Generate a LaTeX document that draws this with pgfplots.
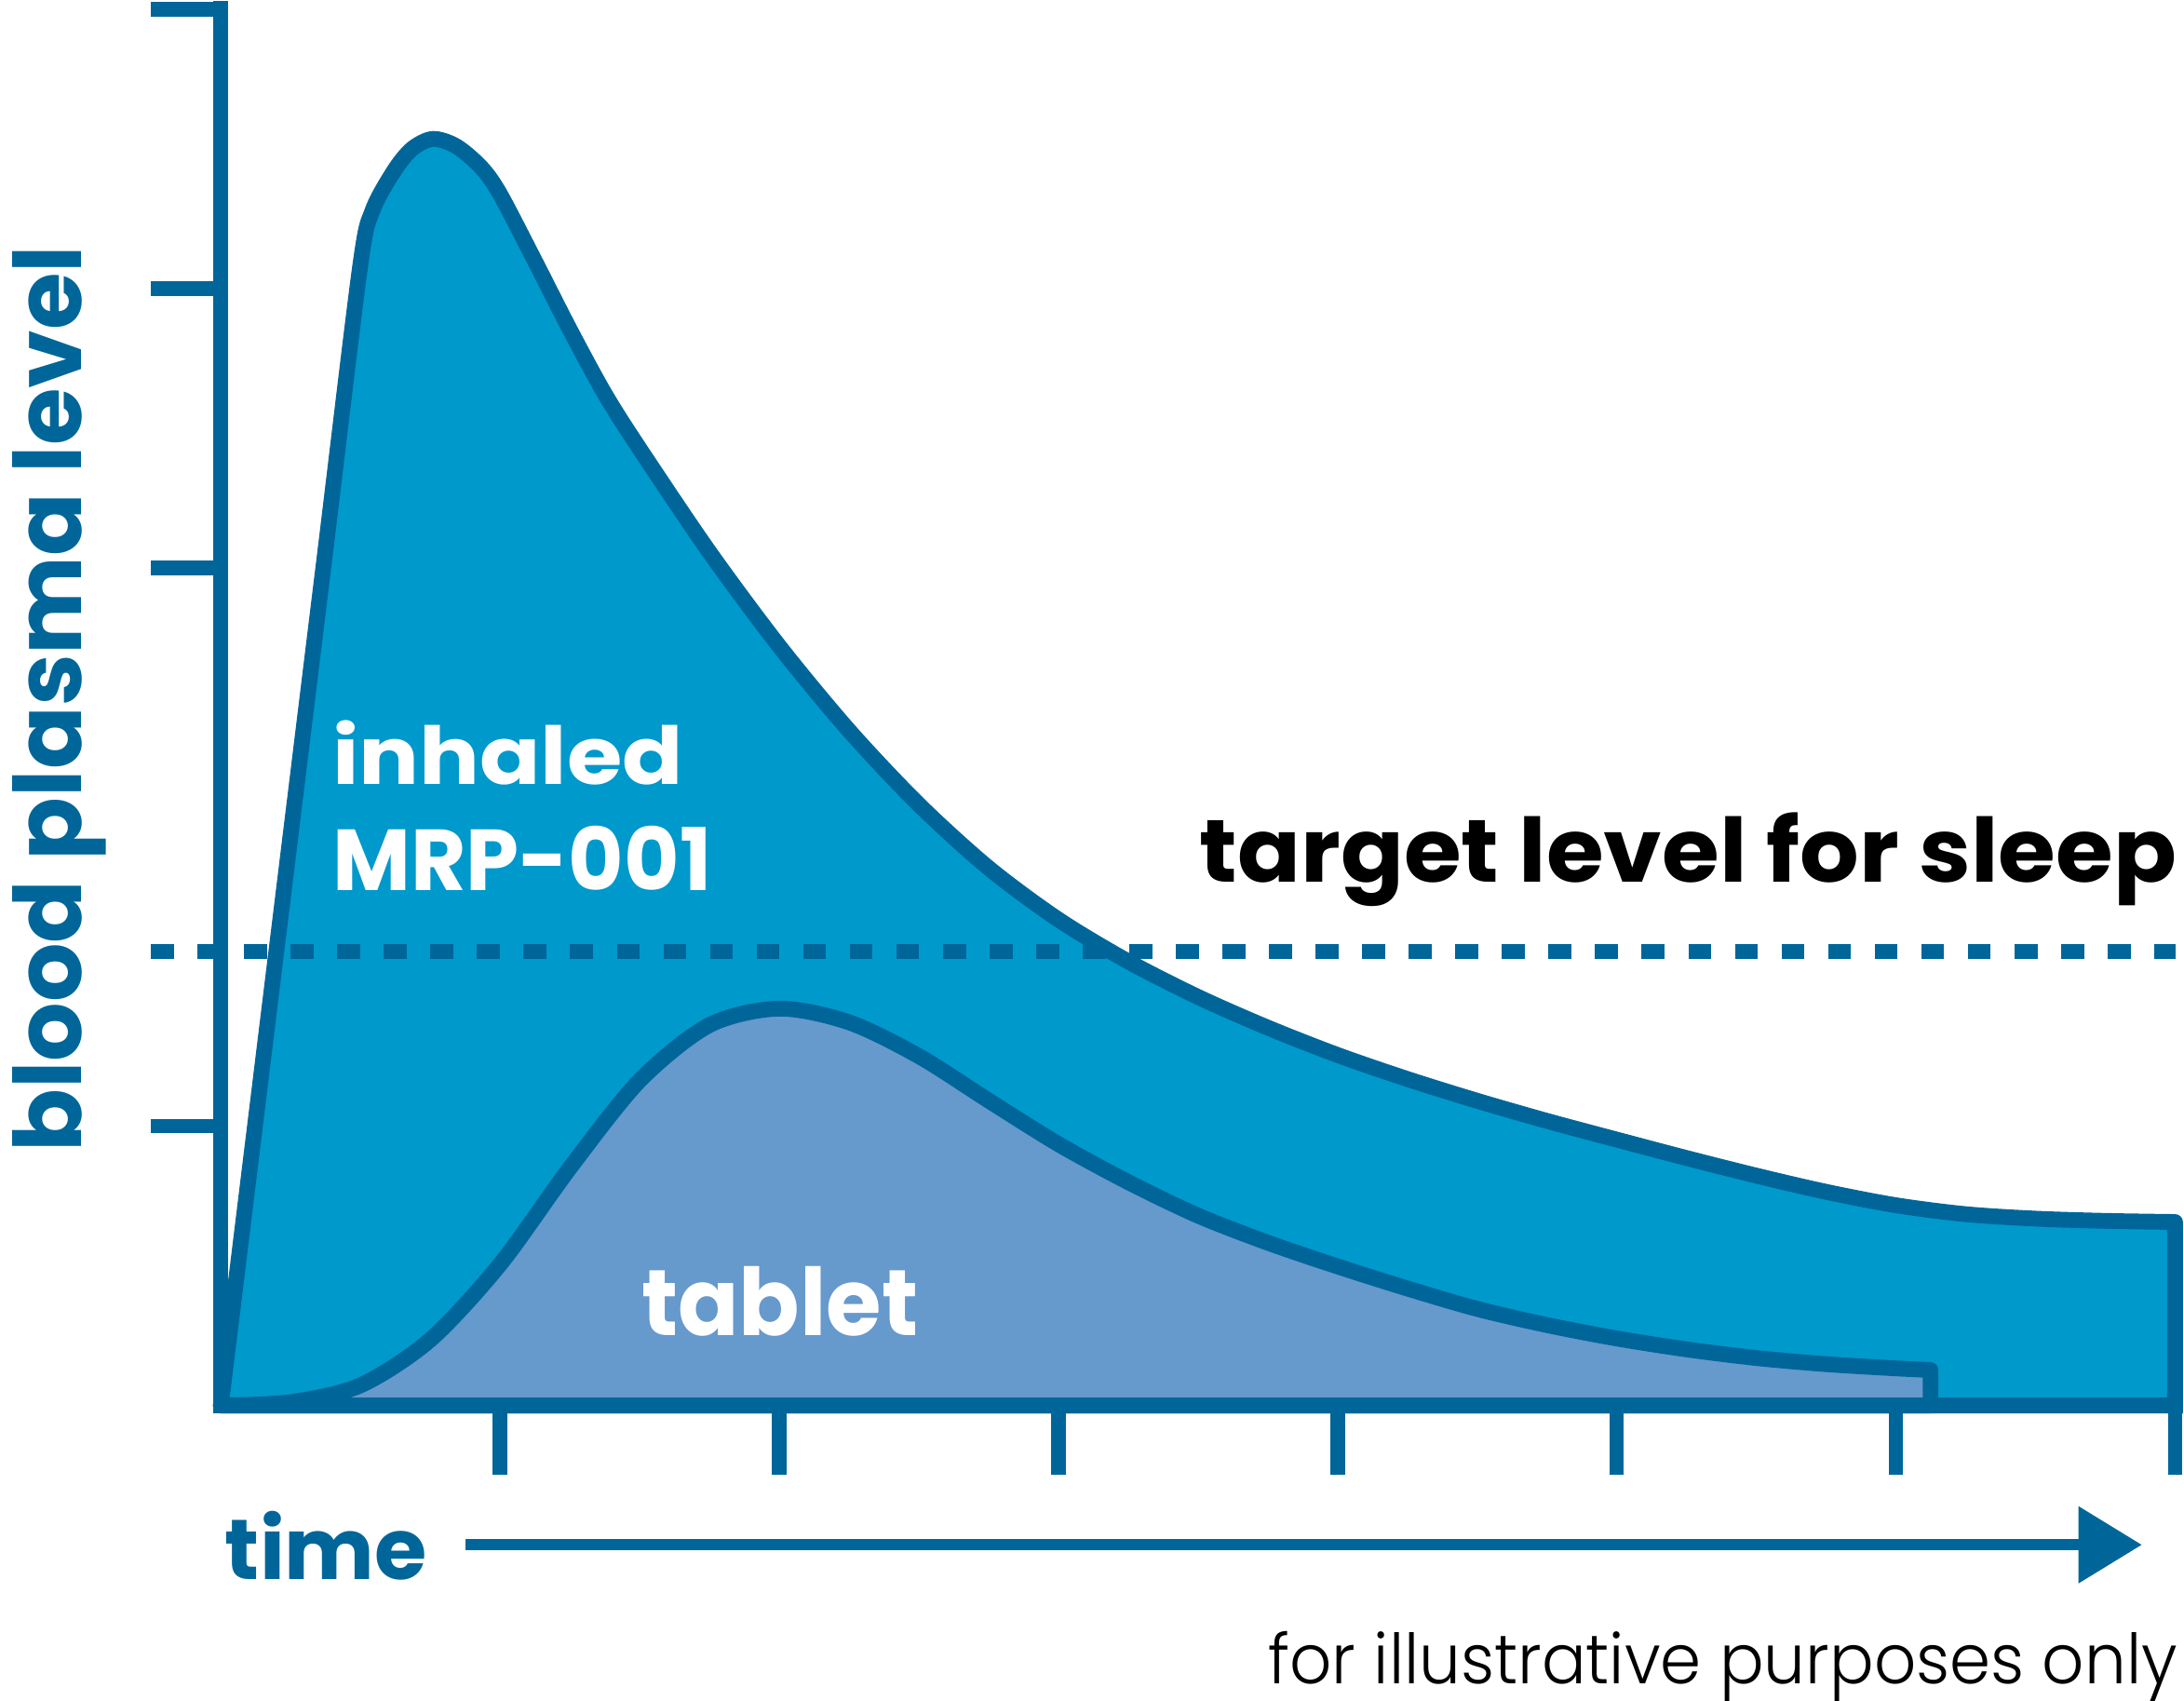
\documentclass[border=0pt]{standalone}
\usepackage{fontspec}
\setmainfont{Poppins}
\newfontfamily\lightfont{Poppins Light}
\usepackage{graphicx}
\usepackage{pgfplots}
\pgfplotsset{compat=1.18}
\definecolor{dk}{HTML}{006699}
\definecolor{cy}{HTML}{0099CC}
\definecolor{tb}{HTML}{6699CC}

\pgfplotstableread{
x y
0.000 0.000
0.125 1.021
0.250 2.042
0.375 3.063
0.499 4.077
0.543 4.277
0.621 4.421
0.686 4.500
0.760 4.535
0.843 4.509
0.932 4.434
1.000 4.338
1.125 4.098
1.250 3.853
1.375 3.623
1.500 3.426
1.750 3.056
2.000 2.719
2.250 2.417
2.500 2.152
2.750 1.925
3.000 1.740
3.250 1.590
3.500 1.463
3.750 1.353
4.000 1.255
4.250 1.169
4.500 1.091
4.750 1.019
5.000 0.952
5.250 0.886
5.500 0.823
5.750 0.765
6.000 0.717
6.250 0.685
6.500 0.669
6.750 0.661
7.000 0.657
}\inhaled

\pgfplotstableread{
x y
0.000 0.000
0.250 0.012
0.500 0.072
0.750 0.235
1.000 0.505
1.250 0.850
1.500 1.163
1.750 1.362
2.000 1.421
2.250 1.372
2.500 1.251
2.750 1.092
3.000 0.936
3.250 0.800
3.500 0.680
3.750 0.583
4.000 0.498
4.250 0.419
4.500 0.346
4.750 0.288
5.000 0.240
5.250 0.201
5.500 0.170
5.750 0.148
6.000 0.133
6.124 0.127
}\tablet

\begin{document}
\begin{tikzpicture}
\begin{axis}[
  x=2.0044cm, y=2.005cm,
  xmin=0, xmax=7, ymin=0, ymax=5,
  enlargelimits=false,
  axis lines*=left,
  axis line style={dk, line width=0.11cm, line cap=rect},
  xtick={1,2,3,4,5,6,7},
  ytick={1,3,4,5},
  xticklabels={}, yticklabels={},
  tick align=outside,
  major tick length=0.5cm,
  tick style={dk, line width=0.105cm, line cap=butt},
  clip=false,
]
\addplot[draw=dk, fill=cy, line width=0.113cm, line join=round, smooth] table {\inhaled} \closedcycle;
\addplot[dk, line width=0.11cm, dash pattern=on 0.165cm off 0.1695cm] coordinates {(-0.2504,1.626) (7.002,1.626)};
\addplot[draw=dk, fill=tb, line width=0.113cm, line join=round, smooth] table {\tablet} \closedcycle;

\node[anchor=base west, inner sep=0, text=white] at (axis cs:0.3966,2.223) {\resizebox{2.518cm}{0.459cm}{\bfseries inhaled}};
\node[anchor=base west, inner sep=0, text=white] at (axis cs:0.3976,1.8454) {\resizebox{2.72cm}{0.463cm}{\bfseries MRP-001}};
\node[anchor=base west, inner sep=0, text=white] at (axis cs:1.5037,0.2514) {\resizebox{1.985cm}{0.496cm}{\bfseries tablet}};
\node[anchor=base west, inner sep=0, text=black] at (axis cs:3.5038,1.8743) {\resizebox{7.012cm}{0.499cm}{\bfseries target level for sleep}};
\node[anchor=base west, inner sep=0, text=dk] at (axis cs:0.0125,-0.6234) {\resizebox{1.45cm}{0.49cm}{\bfseries time}};
\node[anchor=base west, inner sep=0, text=black] at (axis cs:3.7492,-0.9955) {\resizebox{6.525cm}{0.376cm}{\lightfont for illustrative purposes only}};
\node[anchor=base west, inner sep=0, text=dk, rotate=90] at (axis cs:-0.5004,0.9027) {\resizebox{6.51cm}{0.495cm}{\bfseries blood plasma level}};

\draw[dk, line width=0.08cm] (axis cs:0.877,-0.4988) -- (axis cs:6.66,-0.4988);
\fill[dk] (axis cs:6.654,-0.3604) -- (axis cs:6.880,-0.4988) -- (axis cs:6.654,-0.6372) -- cycle;

\coordinate (bl) at (axis cs:-0.7908,-1.0574);
\coordinate (tr) at (axis cs:7.032,5.0324);
\end{axis}
\pgfresetboundingbox
\path[use as bounding box] (bl) rectangle (tr);
\end{tikzpicture}
\end{document}
